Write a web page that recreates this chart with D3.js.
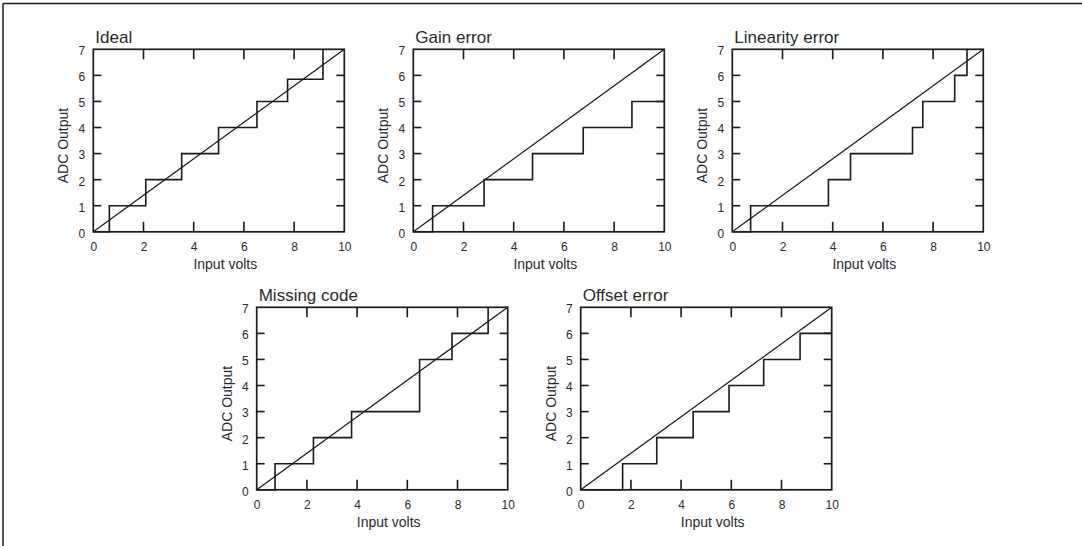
<!DOCTYPE html>
<html>
<head>
<meta charset="utf-8">
<script src="https://cdn.jsdelivr.net/npm/d3@7/dist/d3.min.js"></script>
<style>
  html, body { margin: 0; padding: 0; background: #fff; }
  svg { display: block; }
  text { font-family: "Liberation Sans", Arial, Helvetica, sans-serif; fill: #2a2a2a; }
</style>
</head>
<body>
<svg id="chart" width="1082" height="546"></svg>
<script>
// ---- Data ----
const panelTitles = ["Ideal", "Gain error", "Linearity error", "Missing code", "Offset error"];
const xTicks = [0, 2, 4, 6, 8, 10];
const yTicks = [0, 1, 2, 3, 4, 5, 6, 7];
const xLabel = "Input volts";
const yLabel = "ADC Output";

// Step transitions: input voltage where the output code changes, and the code after the change
const idealEdges      = [0, 0.64, 2.09, 3.52, 4.99, 6.52, 7.74, 9.15];
const idealCodes      = [0, 1, 2, 3, 4, 5, 5.85, 7];
const gainEdges       = [0, 0.77, 2.82, 4.75, 6.77, 8.71, 10];
const gainCodes       = [0, 1, 2, 3, 4, 5, 5];
const linearityEdges  = [0, 0.73, 3.83, 4.71, 7.18, 7.59, 8.86, 9.35];
const linearityCodes  = [0, 1, 2, 3, 4, 5, 6, 7];
const missingEdges    = [0, 0.73, 2.26, 3.78, 6.49, 7.78, 9.22];
const missingCodes    = [0, 1, 2, 3, 5, 6, 7];
const offsetEdges     = [0, 1.67, 3.03, 4.48, 5.91, 7.29, 8.74, 10];
const offsetCodes     = [0, 1, 2, 3, 4, 5, 6, 6];
// Ideal transfer line (input volts, code)
const diagX = [0, 10];
const diagY = [0, 7];

const seriesEdges = [idealEdges, gainEdges, linearityEdges, missingEdges, offsetEdges];
const seriesCodes = [idealCodes, gainCodes, linearityCodes, missingCodes, offsetCodes];

// ---- Layout ----
const W = 251, H = 182.5;
const layout = [
  { left: 93.3,  top: 49.3 },
  { left: 413.3, top: 49.3 },
  { left: 732.3, top: 49.3 },
  { left: 256.7, top: 307.3 },
  { left: 580.7, top: 307.3 }
];
const ink = "#1a1a1a";

const svg = d3.select("#chart");

// outer frame (only top and left edges are visible in the reference)
svg.append("line").attr("x1", 3).attr("x2", 1082).attr("y1", 3.5).attr("y2", 3.5)
  .attr("stroke", ink).attr("stroke-width", 1.5);
svg.append("line").attr("x1", 3).attr("x2", 3).attr("y1", 3.5).attr("y2", 546)
  .attr("stroke", ink).attr("stroke-width", 1.5);

const x = d3.scaleLinear().domain([0, 10]).range([0, W]);
const y = d3.scaleLinear().domain([0, 7]).range([H, 0]);

const stepLine = d3.line().x(d => x(d[0])).y(d => y(d[1])).curve(d3.curveStepAfter);
const straight = d3.line().x(d => x(d[0])).y(d => y(d[1]));

panelTitles.forEach((title, i) => {
  const L = layout[i];
  const g = svg.append("g").attr("transform", `translate(${L.left},${L.top})`);

  // inner ticks on all four sides
  const xt = 10, yt = 8;
  const innerX = xTicks.filter(v => v > 0 && v < 10);
  const innerY = yTicks.filter(v => v > 0 && v < 7);
  const tg = g.append("g").attr("stroke", ink).attr("stroke-width", 1.6);
  innerX.forEach(v => {
    tg.append("line").attr("x1", x(v)).attr("x2", x(v)).attr("y1", H).attr("y2", H - xt);
    tg.append("line").attr("x1", x(v)).attr("x2", x(v)).attr("y1", 0).attr("y2", xt);
  });
  innerY.forEach(v => {
    tg.append("line").attr("x1", 0).attr("x2", yt).attr("y1", y(v)).attr("y2", y(v));
    tg.append("line").attr("x1", W).attr("x2", W - yt).attr("y1", y(v)).attr("y2", y(v));
  });

  // tick labels via axes (tick lines hidden)
  const xAxis = g.append("g").attr("transform", `translate(0,${H})`)
    .call(d3.axisBottom(x).tickValues(xTicks).tickSize(0).tickPadding(11).tickFormat(d3.format("d")));
  const yAxis = g.append("g")
    .call(d3.axisLeft(y).tickValues(yTicks).tickSize(0).tickPadding(8).tickFormat(d3.format("d")));
  [xAxis, yAxis].forEach(a => {
    a.select(".domain").remove();
    a.selectAll("text").attr("font-size", 12).attr("fill", "#2a2a2a")
      .style("font-family", '"Liberation Sans", Arial, sans-serif');
  });
  yAxis.selectAll("text").attr("dy", "0.45em");

  // diagonal ideal line
  g.append("path")
    .datum(diagX.map((v, k) => [v, diagY[k]]))
    .attr("d", straight).attr("fill", "none").attr("stroke", ink).attr("stroke-width", 1.3);

  // staircase
  const pts = seriesEdges[i].map((v, k) => [v, seriesCodes[i][k]]);
  g.append("path").datum(pts)
    .attr("d", stepLine).attr("fill", "none").attr("stroke", ink).attr("stroke-width", 1.6);

  // frame
  g.append("rect").attr("x", 0).attr("y", 0).attr("width", W).attr("height", H)
    .attr("fill", "none").attr("stroke", ink).attr("stroke-width", 1.7);

  // title
  g.append("text").attr("x", 2).attr("y", -6.5).attr("font-size", 17).text(title);

  // axis labels
  g.append("text").attr("x", W / 2 + 6.5).attr("y", H + 37)
    .attr("text-anchor", "middle").attr("font-size", 14).text(xLabel);
  g.append("text")
    .attr("transform", `translate(-25,${H / 2 + 5}) rotate(-90)`)
    .attr("text-anchor", "middle").attr("font-size", 14).text(yLabel);
});
</script>
</body>
</html>
